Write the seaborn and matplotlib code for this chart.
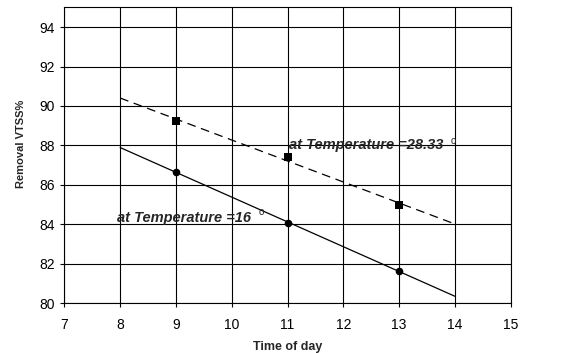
import numpy as np
import pandas as pd
import matplotlib
matplotlib.use("Agg")
import matplotlib.pyplot as plt
import seaborn as sns

# Data
time_of_day = [9, 11, 13]
removal_t28 = [89.23, 87.42, 84.97]   # squares, T = 28.33
removal_t16 = [86.67, 84.04, 81.64]   # circles, T = 16
trend_range = [8, 14]
x_ticks = [7, 8, 9, 10, 11, 12, 13, 14, 15]
y_ticks = [80, 82, 84, 86, 88, 90, 92, 94]

sns.set_style("ticks")
plt.rcParams['font.family'] = ['Liberation Sans', 'DejaVu Sans']

fig = plt.figure(figsize=(5.75, 3.53), dpi=100)
ax = fig.add_axes([0.112, 0.1416, 0.776, 0.8374])

df = pd.DataFrame({"x": time_of_day, "t28": removal_t28, "t16": removal_t16})

# linear trend lines
tx = np.array(trend_range, dtype=float)
c28 = np.polyfit(time_of_day, removal_t28, 1)
c16 = np.polyfit(time_of_day, removal_t16, 1)
trend = pd.DataFrame({"x": tx, "t28": np.polyval(c28, tx), "t16": np.polyval(c16, tx)})

sns.lineplot(data=trend, x="x", y="t28", ax=ax, color="black", lw=0.9,
             linestyle=(0, (7, 4.5)))
sns.lineplot(data=trend, x="x", y="t16", ax=ax, color="black", lw=0.9)

sns.scatterplot(data=df, x="x", y="t28", ax=ax, marker="s", s=32, color="black",
                edgecolor="black", linewidth=0, zorder=5)
sns.scatterplot(data=df, x="x", y="t16", ax=ax, marker="o", s=30, color="black",
                edgecolor="black", linewidth=0, zorder=5)

ax.set_xlim(7, 15)
ax.set_ylim(80, 95)
ax.set_xticks(x_ticks)
ax.set_yticks(y_ticks)
ax.grid(True, color="black", lw=0.8)
ax.set_axisbelow(True)
for s in ax.spines.values():
    s.set_color("black")
    s.set_linewidth(0.8)
ax.tick_params(axis="both", length=3, width=0.8, color="black", labelsize=10,
               labelcolor="black")
ax.tick_params(axis="x", pad=7.5)
ax.tick_params(axis="y", pad=4)

ax.set_xlabel("Time of day", fontsize=9, fontweight="bold", va="center")
ax.xaxis.set_label_coords(0.5, -0.148)
ax.set_ylabel("Removal VTSS%", fontsize=8, fontweight="bold", va="center")
ax.yaxis.set_label_coords(-0.097, 0.54)

ax.text(7.95, 84.12, "at Temperature =16", fontsize=10.5, fontweight="bold",
        fontstyle="italic", va="baseline", ha="left")
ax.text(10.53, 84.63, "o", fontsize=7, va="center", ha="center")
ax.text(11.03, 87.82, "at Temperature =28.33", fontsize=10.5, fontweight="bold",
        fontstyle="italic", va="baseline", ha="left")
ax.text(13.98, 88.24, "o", fontsize=7, va="center", ha="center")

fig.savefig("out.png", dpi=100)
